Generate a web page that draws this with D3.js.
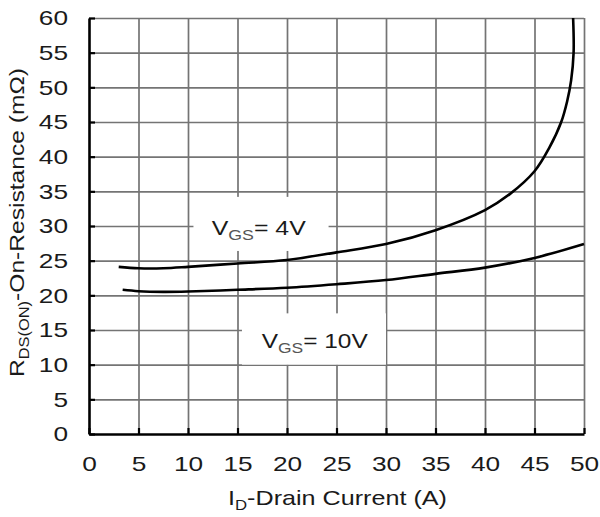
<!DOCTYPE html>
<html>
<head>
<meta charset="utf-8">
<script src="https://cdn.jsdelivr.net/npm/d3@7"></script>
<style>
  body { margin: 0; background: #fff; }
  text { font-family: "Liberation Sans", Arial, sans-serif; fill: #1a1a1a; }
</style>
</head>
<body>
<script>
// curve, VGS = 4V
var id4 = [3, 5, 7.5, 10, 15, 20, 25, 30, 35, 40, 42.5, 45, 46.5, 47.7, 48.3, 48.7, 48.95, 48.9];
var rds4 = [24.1, 23.9, 23.9, 24.1, 24.6, 25.1, 26.2, 27.4, 29.4, 32.3, 34.6, 37.9, 41.3, 45, 48, 51, 55, 60];
// VGS = 10V
var id10 = [3.4, 5, 7.5, 10, 15, 20, 25, 30, 35, 40, 45, 50];
var rds10 = [20.8, 20.6, 20.5, 20.55, 20.8, 21.1, 21.6, 22.2, 23.1, 24, 25.4, 27.4];

var xTicks = [0, 5, 10, 15, 20, 25, 30, 35, 40, 45, 50];
var yTicks = [0, 5, 10, 15, 20, 25, 30, 35, 40, 45, 50, 55, 60];

var W = 600, H = 517;
var margin = {top: 18, right: 16, bottom: 83, left: 89};
var w = W - margin.left - margin.right;
var h = H - margin.top - margin.bottom;

// the picture is a bit wider than tall, so the text is widened to match
function stretch(sel, k) {
  sel.each(function() {
    var len = this.getComputedTextLength();
    d3.select(this)
      .attr('textLength', len * k)
      .attr('lengthAdjust', 'spacingAndGlyphs');
  });
}

var svg = d3.select('body').append('svg')
    .attr('width', W)
    .attr('height', H);

var g = svg.append('g')
    .attr('transform', 'translate(' + margin.left + ',' + margin.top + ')');

var x = d3.scaleLinear().domain([0, 50]).range([0, w]);
var y = d3.scaleLinear().domain([0, 60]).range([h, 0]);

// grid
g.append('g')
    .attr('class', 'grid')
    .call(d3.axisLeft(y).tickValues(yTicks.slice(1)).tickSize(-w).tickFormat(''))
    .call(function(s) { s.select('.domain').remove(); });
g.append('g')
    .attr('class', 'grid')
    .attr('transform', 'translate(0,' + h + ')')
    .call(d3.axisBottom(x).tickValues(xTicks.slice(1)).tickSize(-h).tickFormat(''))
    .call(function(s) { s.select('.domain').remove(); });
g.selectAll('.grid line')
    .attr('stroke', '#747474')
    .attr('stroke-width', 1.7);

// white boxes behind the labels, they hide the grid
var boxes = [
  {x0: 10.55, x1: 24.2, y0: 26.4, y1: 34.2},
  {x0: 15.45, x1: 30, y0: 10, y1: 17.4}
];
g.selectAll('rect.box')
    .data(boxes)
    .enter().append('rect')
    .attr('class', 'box')
    .attr('x', function(d) { return x(d.x0); })
    .attr('y', function(d) { return y(d.y1); })
    .attr('width', function(d) { return x(d.x1) - x(d.x0); })
    .attr('height', function(d) { return y(d.y0) - y(d.y1); })
    .attr('fill', '#fff');

// axes
var yAxis = g.append('g')
    .call(d3.axisLeft(y).tickValues(yTicks).tickSize(-6).tickSizeOuter(0).tickPadding(21));
var xAxis = g.append('g')
    .attr('transform', 'translate(0,' + h + ')')
    .call(d3.axisBottom(x).tickValues(xTicks).tickSize(-6).tickSizeOuter(0).tickPadding(22));
[yAxis, xAxis].forEach(function(a) {
  a.select('.domain').attr('stroke', '#000').attr('stroke-width', 2.6);
  a.selectAll('.tick line').attr('stroke', '#000').attr('stroke-width', 2.2);
  a.selectAll('.tick text')
    .style('font-family', '"Liberation Sans", Arial, sans-serif')
    .style('font-size', '21px')
    .attr('fill', '#1a1a1a')
    .call(stretch, 1.25);
});

// curves
var line = d3.line()
    .x(function(d) { return x(d[0]); })
    .y(function(d) { return y(d[1]); })
    .curve(d3.curveCatmullRom.alpha(0.5));

g.append('path')
    .datum(d3.zip(id4, rds4))
    .attr('d', line)
    .attr('fill', 'none')
    .attr('stroke', '#000')
    .attr('stroke-width', 2.6);
g.append('path')
    .datum(d3.zip(id10, rds10))
    .attr('d', line)
    .attr('fill', 'none')
    .attr('stroke', '#000')
    .attr('stroke-width', 2.6);

// curve labels
function vgsLabel(px, py, val, len) {
  var t = g.append('text')
      .attr('x', px)
      .attr('y', py)
      .attr('textLength', len)
      .attr('lengthAdjust', 'spacingAndGlyphs')
      .style('font-size', '21px');
  t.append('tspan').text('V');
  t.append('tspan').text('GS').attr('dy', 5).style('font-size', '15px').attr('fill', '#555');
  t.append('tspan').text('= ' + val).attr('dy', -5);
}
vgsLabel(x(12.4), 217, '4V', 94);
vgsLabel(x(17.45), 330, '10V', 106);

// axis titles
var xt = svg.append('text')
    .attr('x', 228)
    .attr('y', 505)
    .attr('textLength', 219)
    .attr('lengthAdjust', 'spacingAndGlyphs')
    .style('font-size', '21px');
xt.append('tspan').text('I');
xt.append('tspan').text('D').attr('dy', 5).style('font-size', '14px');
xt.append('tspan').text('-Drain Current (A)').attr('dy', -5);

var yt = svg.append('text')
    .attr('transform', 'translate(24,377) rotate(-90)')
    .attr('textLength', 309)
    .attr('lengthAdjust', 'spacingAndGlyphs')
    .style('font-size', '21px');
yt.append('tspan').text('R');
yt.append('tspan').text('DS(ON)').attr('dy', 5).style('font-size', '14px');
yt.append('tspan').text('-On-Resistance (m\u03A9)').attr('dy', -5);
</script>
</body>
</html>
